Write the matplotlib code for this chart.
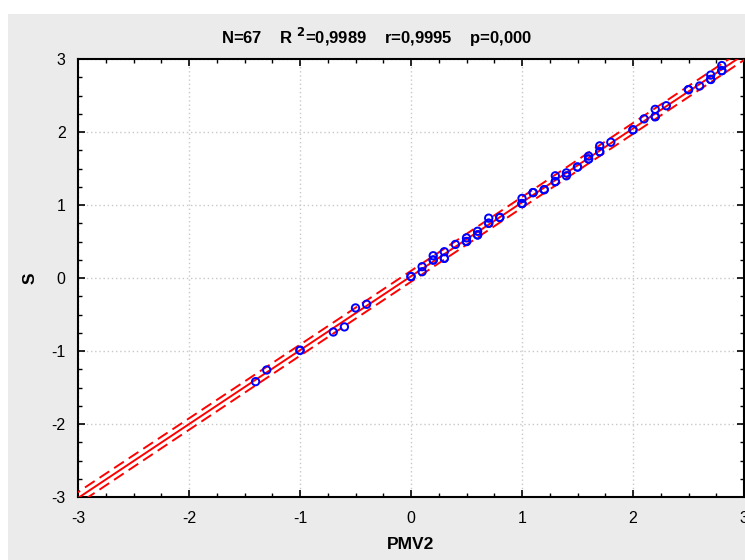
import numpy as np
import matplotlib
matplotlib.use("Agg")
import matplotlib.pyplot as plt
from matplotlib.patches import Rectangle
from matplotlib.ticker import MultipleLocator

plt.rcParams['font.family'] = ['Liberation Sans', 'DejaVu Sans']
plt.rcParams['axes.unicode_minus'] = False

# Data (PMV2 vs S); duplicated points overlap
pmv2 = [-1.4, -1.3, -1.0, -0.7, -0.6, -0.5, -0.4,
        0.0, 0.1, 0.1, 0.2, 0.2, 0.3, 0.3, 0.4, 0.5, 0.5, 0.6, 0.6, 0.7, 0.7, 0.8,
        1.0, 1.0, 1.1, 1.2, 1.3, 1.3, 1.4, 1.4, 1.5, 1.6, 1.6, 1.7, 1.7, 1.8, 2.0,
        2.1, 2.2, 2.2, 2.3, 2.5, 2.6, 2.7, 2.7, 2.8, 2.8,
        # overlapping duplicates
        -1.0, 0.0, 0.2, 0.3, 0.5, 0.6, 0.7, 0.8, 1.0, 1.1, 1.3, 1.5, 1.6, 1.7, 2.0,
        2.2, 2.5, 2.7, 2.8, 1.2]
s_vals = [-1.42, -1.26, -0.99, -0.74, -0.67, -0.41, -0.36,
          0.02, 0.155, 0.086, 0.305, 0.246, 0.36, 0.27, 0.46, 0.55, 0.50, 0.64, 0.59, 0.82, 0.75, 0.83,
          1.09, 1.02, 1.17, 1.21, 1.40, 1.32, 1.44, 1.40, 1.52, 1.67, 1.63, 1.81, 1.73, 1.86, 2.03,
          2.18, 2.31, 2.21, 2.36, 2.58, 2.63, 2.72, 2.78, 2.91, 2.84,
          -0.99, 0.02, 0.246, 0.27, 0.50, 0.59, 0.75, 0.83, 1.02, 1.17, 1.32, 1.52, 1.63, 1.73, 2.03,
          2.21, 2.58, 2.72, 2.84, 1.21]

title_txt = r"N=67    R $^{\mathbf{2}}$=0,9989    r=0,9995    p=0,000"
x_label = "PMV2"
y_label = "S"
ticks = [-3, -2, -1, 0, 1, 2, 3]

x = np.array(pmv2)
y = np.array(s_vals)
n = len(x)
b, a = np.polyfit(x, y, 1)
resid = y - (a + b * x)
s = np.sqrt(np.sum(resid ** 2) / (n - 2))
xbar = x.mean()
sxx = np.sum((x - xbar) ** 2)
t = 1.997
xx = np.linspace(-3.2, 3.2, 400)
yy = a + b * xx
# 95% band around the fitted line
half = t * s * np.sqrt(1.0 + 1.0 / n + (xx - xbar) ** 2 / sxx)

fig = plt.figure(figsize=(7.45, 5.6), dpi=100, facecolor='white')
fig.patches.append(Rectangle((8 / 745, 0), 1, 1 - 14 / 560, transform=fig.transFigure,
                             facecolor='#ebebeb', edgecolor='none', zorder=-10))
ax = fig.add_axes([78 / 745, 1 - 497 / 560, (744 - 78) / 745, (497 - 59) / 560])
ax.set_facecolor('white')

ax.plot(xx, yy, color='red', lw=1.4, zorder=3)
ax.plot(xx, yy + half, color='red', lw=1.4, ls=(0, (6, 3)), zorder=3)
ax.plot(xx, yy - half, color='red', lw=1.4, ls=(0, (6, 3)), zorder=3)
ax.scatter(x, y, s=28, facecolors='none', edgecolors='blue', linewidths=1.4, zorder=4)

ax.set_xlim(-3, 3)
ax.set_ylim(-3, 3)
ax.set_xticks(ticks)
ax.set_yticks(ticks)
ax.xaxis.set_minor_locator(MultipleLocator(0.25))
ax.yaxis.set_minor_locator(MultipleLocator(0.25))
ax.tick_params(which='both', direction='in', top=True, right=True, labelsize=11.5,
               colors='black')
ax.tick_params(which='major', length=5, width=1.2)
ax.tick_params(which='minor', length=3, width=1.0)
ax.tick_params(axis='x', pad=10)
ax.tick_params(axis='y', pad=9)
for sp in ax.spines.values():
    sp.set_linewidth(1.5)
    sp.set_color('black')

ax.grid(True, which='major', color='#c8c8c8', ls=(0, (1, 2)), lw=1.0)
ax.set_axisbelow(True)

ax.set_xlabel(x_label, fontsize=12.5, fontweight='bold', labelpad=8)
ax.set_ylabel(y_label, fontsize=12.5, fontweight='bold', labelpad=10)
fig.text(377 / 745, 1 - 37 / 560, title_txt, ha='center', va='center',
         fontsize=12, fontweight='bold')

fig.savefig('out.png', dpi=100, facecolor=fig.get_facecolor())
